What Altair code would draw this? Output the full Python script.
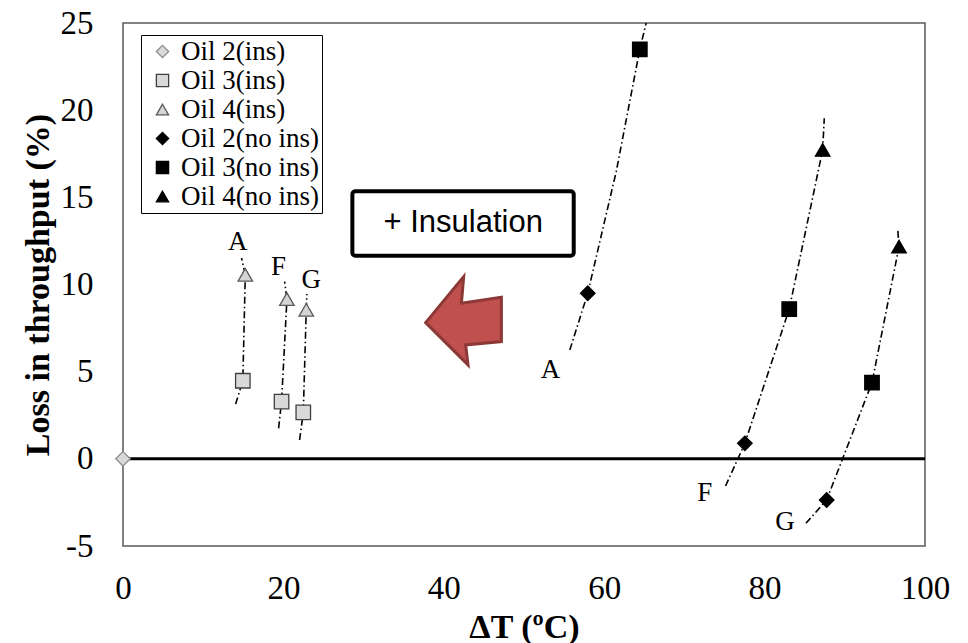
import altair as alt
import pandas as pd

# ---- series definitions (legend order) ----
series_order = ["Oil 2(ins)", "Oil 3(ins)", "Oil 4(ins)",
                "Oil 2(no ins)", "Oil 3(no ins)", "Oil 4(no ins)"]
series_shape = ["diamond", "square", "triangle-up", "diamond", "square", "triangle-up"]
series_fill = ["#d9d9d9", "#d9d9d9", "#d4d4d4", "#000000", "#000000", "#000000"]
series_stroke = ["#8c8c8c", "#404040", "#595959", "#000000", "#000000", "#000000"]

# ---- measured points: ΔT (°C) vs loss in throughput (%) ----
pt_series = ["Oil 2(ins)",
             "Oil 3(ins)", "Oil 3(ins)", "Oil 3(ins)",
             "Oil 4(ins)", "Oil 4(ins)", "Oil 4(ins)",
             "Oil 2(no ins)", "Oil 2(no ins)", "Oil 2(no ins)",
             "Oil 3(no ins)", "Oil 3(no ins)", "Oil 3(no ins)",
             "Oil 4(no ins)", "Oil 4(no ins)"]
pt_dt = [0.0,
         14.94, 19.77, 22.48,
         15.25, 20.44, 22.85,
         57.95, 77.54, 87.74,
         64.44, 83.07, 93.39,
         87.24, 96.76]
pt_loss = [0.0,
           4.48, 3.28, 2.67,
           10.55, 9.16, 8.55,
           9.50, 0.89, -2.36,
           23.49, 8.59, 4.37,
           17.72, 12.17]

# ---- trend curves for each case (A, F, G), insulated and not ----
tr_group = (["A ins"] * 4 + ["F ins"] * 4 + ["G ins"] * 4 +
            ["A no ins"] * 5 + ["F no ins"] * 5 + ["G no ins"] * 5)
tr_dt = [14.04, 14.94, 15.25, 14.78,
         19.40, 19.77, 20.44, 20.15,
         22.02, 22.48, 22.85, 22.93,
         55.71, 57.95, 61.51, 64.44, 65.55,
         75.13, 77.54, 83.07, 87.24, 87.44,
         85.15, 87.74, 93.39, 96.76, 96.59]
tr_loss = [3.14, 4.48, 10.55, 11.52,
           1.75, 3.28, 9.16, 10.16,
           1.08, 2.67, 8.55, 9.45,
           6.24, 9.50, 16.50, 23.49, 25.60,
           -1.56, 0.89, 8.59, 17.72, 19.54,
           -3.70, -2.36, 4.37, 12.17, 13.22]

# ---- case labels ----
lab_text = ["A", "F", "G", "A", "F", "G"]
lab_dt = [14.32, 19.40, 23.48, 53.30, 72.54, 82.53]
lab_loss = [12.46, 11.02, 10.26, 5.09, -1.96, -3.61]

# ---- annotation: boxed note and arrow ----
note_text = ["+ Insulation"]
note_box_dt = [28.6, 56.2]
note_box_loss = [11.65, 15.35]
note_center = [42.42, 13.51]
arrow_center = [42.48, 7.91]
arrow_path = ("M-0.864,0.039L0,-1.007L-0.052,-0.402L0.857,-0.539"
              "L0.857,0.470L0.045,0.545L0.098,1.0Z")

points = pd.DataFrame({"series": pt_series, "x": pt_dt, "y": pt_loss})
trend = pd.DataFrame({"group": tr_group, "x": tr_dt, "y": tr_loss,
                      "idx": list(range(len(tr_dt)))})
labels = pd.DataFrame({"text": lab_text, "x": lab_dt, "y": lab_loss})
zero = pd.DataFrame({"y": [0.0]})
box = pd.DataFrame({"x": [note_box_dt[0]], "x2": [note_box_dt[1]],
                    "y": [note_box_loss[0]], "y2": [note_box_loss[1]]})
note = pd.DataFrame({"x": [note_center[0]], "y": [note_center[1]], "text": note_text})
arrow = pd.DataFrame({"x": [arrow_center[0]], "y": [arrow_center[1]]})

x_scale = alt.Scale(domain=[0, 100], nice=False)
y_scale = alt.Scale(domain=[-5, 25], nice=False)

x_axis = alt.Axis(values=[0, 20, 40, 60, 80, 100], title="ΔT (ºC)",
                  grid=False, ticks=False, domain=False, labelPadding=26,
                  labelFlush=False, labelOverlap=False,
                  titleY=81, titleBaseline="middle")
y_axis = alt.Axis(values=[-5, 0, 5, 10, 15, 20, 25], title="Loss in throughput  (%)",
                  grid=False, ticks=False, domain=False, labelPadding=30,
                  labelExpr="datum.value + ''", labelOverlap=False, labelFlush=False,
                  titleX=-85, titleY=261.5, titleAngle=270,
                  titleAlign="center", titleBaseline="middle")

X = alt.X("x:Q", scale=x_scale, axis=x_axis)
Y = alt.Y("y:Q", scale=y_scale, axis=y_axis)

legend = alt.Legend(title=None, orient="none", legendX=18, legendY=12)

zero_line = alt.Chart(zero).mark_rule(color="black", strokeWidth=3).encode(y=Y)

trend_lines = alt.Chart(trend).mark_line(
    color="black", strokeWidth=1.6, strokeDash=[7, 3, 1.5, 3], clip=True
).encode(x=X, y=Y, detail="group:N", order="idx:Q")

markers = alt.Chart(points).mark_point(
    filled=True, size=210, strokeWidth=1.3, opacity=1
).encode(
    x=X, y=Y,
    shape=alt.Shape("series:N", scale=alt.Scale(domain=series_order, range=series_shape), legend=legend),
    fill=alt.Fill("series:N", scale=alt.Scale(domain=series_order, range=series_fill), legend=legend),
    stroke=alt.Stroke("series:N", scale=alt.Scale(domain=series_order, range=series_stroke), legend=legend),
)

case_labels = alt.Chart(labels).mark_text(
    font="Liberation Serif", fontSize=27, color="black", align="center", baseline="middle"
).encode(x=X, y=Y, text="text:N")

note_box = alt.Chart(box).mark_rect(
    fill="white", stroke="black", strokeWidth=4, cornerRadius=3
).encode(x=X, x2="x2:Q", y=Y, y2="y2:Q")

note_label = alt.Chart(note).mark_text(
    font="Liberation Sans", fontSize=31, color="black", align="center", baseline="middle"
).encode(x=X, y=Y, text="text:N")

arrow_mark = alt.Chart(arrow).mark_point(
    shape=arrow_path, size=7744, filled=True, fill="#c0504d",
    stroke="#8c3836", strokeWidth=3, opacity=1
).encode(x=X, y=Y)

chart = alt.layer(
    zero_line, trend_lines, markers, case_labels, note_box, note_label, arrow_mark
).properties(
    width=802, height=523,
    padding={"left": 123, "top": 23, "right": 43, "bottom": 97},
    autosize=alt.AutoSizeParams(type="none"),
    background="white",
).configure_view(
    stroke="#595959", strokeWidth=1.5
).configure_axis(
    labelFont="Liberation Serif", labelFontSize=33, labelColor="black",
    titleFont="Liberation Serif", titleFontSize=34, titleFontWeight="bold",
    titleColor="black",
).configure_legend(
    labelFont="Liberation Serif", labelFontSize=27, labelColor="black",
    symbolSize=150, symbolStrokeWidth=1.3, symbolOffset=5, labelOffset=5,
    rowPadding=1, padding=3, strokeColor="black", fillColor="white",
)

chart.save("out.html", embed_options={"renderer": "svg", "actions": False})
